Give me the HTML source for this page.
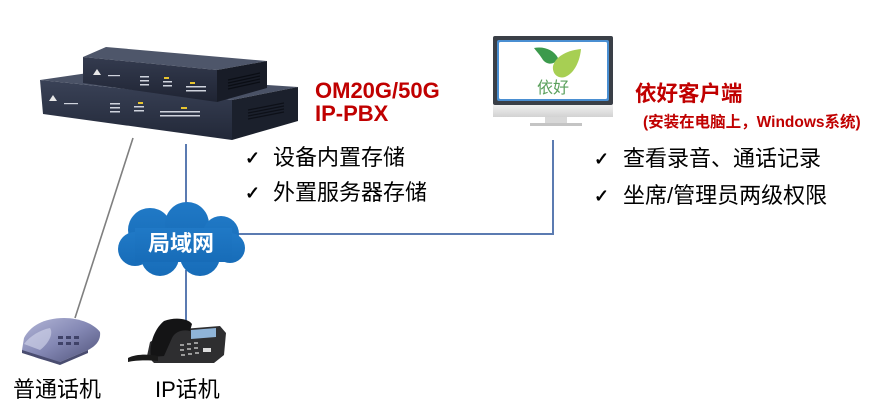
<!DOCTYPE html>
<html><head><meta charset="utf-8">
<style>
html,body{margin:0;padding:0;background:#fff;}
svg{display:block;}
.cn{font-family:"Liberation Sans","Noto Sans CJK SC",sans-serif;}
.ck{font-family:"DejaVu Sans",sans-serif;font-size:18px;fill:#000;stroke:#000;stroke-width:0.6;}
</style></head>
<body>
<svg width="878" height="418" viewBox="0 0 878 418" xmlns="http://www.w3.org/2000/svg">
<defs>
<linearGradient id="frontL" x1="0" y1="0" x2="0" y2="1"><stop offset="0" stop-color="#3a4257"/><stop offset="1" stop-color="#222838"/></linearGradient>
<linearGradient id="frontU" x1="0" y1="0" x2="0" y2="1"><stop offset="0" stop-color="#343b4f"/><stop offset="1" stop-color="#1f2433"/></linearGradient>
<linearGradient id="anlg" x1="0" y1="0" x2="1" y2="1"><stop offset="0" stop-color="#b4b7d8"/><stop offset="0.5" stop-color="#8488b4"/><stop offset="1" stop-color="#4e5178"/></linearGradient>
<linearGradient id="chin" x1="0" y1="0" x2="0" y2="1"><stop offset="0" stop-color="#f0f0f0"/><stop offset="1" stop-color="#d2d2d2"/></linearGradient>
<linearGradient id="cloudg" x1="0" y1="0" x2="0" y2="1"><stop offset="0" stop-color="#2079c6"/><stop offset="1" stop-color="#176cb8"/></linearGradient>
</defs>

<!-- connectors -->
<line x1="133" y1="138" x2="75" y2="318" stroke="#7f7f7f" stroke-width="1.6"/>
<line x1="186" y1="144" x2="186" y2="206" stroke="#5b7bb1" stroke-width="2"/>
<line x1="186" y1="270" x2="186" y2="322" stroke="#5b7bb1" stroke-width="2"/>
<line x1="238" y1="234" x2="553" y2="234" stroke="#5b7bb1" stroke-width="2"/>
<line x1="553" y1="140" x2="553" y2="235" stroke="#5b7bb1" stroke-width="2"/>

<!-- lower PBX box -->
<polygon points="40,80 88,73 298,87 232,100" fill="#4a5266"/>
<polygon points="40,80 232,100 232,140 43,114" fill="url(#frontL)"/>
<polygon points="232,100 298,87 298,121 232,140" fill="#1b202c"/>
<g stroke="#0d1018" stroke-width="1.2">
<line x1="248" y1="110" x2="284" y2="103"/><line x1="248" y1="113" x2="284" y2="106"/><line x1="248" y1="116" x2="284" y2="109"/><line x1="248" y1="119" x2="284" y2="112"/>
</g>
<polygon points="49,101 53,95 57,101" fill="#e8e8e8"/>
<g fill="#cfd3dd">
<rect x="110" y="103" width="10" height="1.5"/><rect x="110" y="107" width="10" height="1.5"/><rect x="110" y="111" width="10" height="1.5"/>
<rect x="134" y="106" width="10" height="1.5"/><rect x="134" y="110" width="10" height="1.5"/>
<rect x="160" y="111" width="40" height="1.5"/><rect x="160" y="115" width="40" height="1.5"/>
<rect x="64" y="103" width="14" height="1.2"/>
</g>
<rect x="138" y="102" width="5" height="2" fill="#e8c530"/>
<rect x="181" y="107" width="6" height="2" fill="#e8c530"/>

<!-- upper PBX box -->
<polygon points="83,57 106,47 267,61 217,70" fill="#4e566a"/>
<polygon points="83,57 217,70 217,102 83,83" fill="url(#frontU)"/>
<polygon points="217,70 267,61 267,88 217,102" fill="#181c27"/>
<g stroke="#0a0d14" stroke-width="1.2">
<line x1="228" y1="80" x2="260" y2="73"/><line x1="228" y1="83" x2="260" y2="76"/><line x1="228" y1="86" x2="260" y2="79"/><line x1="228" y1="89" x2="260" y2="82"/>
</g>
<polygon points="93,75 97,69 101,75" fill="#e8e8e8"/>
<g fill="#cfd3dd">
<rect x="140" y="76" width="9" height="1.5"/><rect x="140" y="80" width="9" height="1.5"/><rect x="140" y="84" width="9" height="1.5"/>
<rect x="163" y="81" width="9" height="1.5"/><rect x="163" y="85" width="9" height="1.5"/>
<rect x="186" y="86" width="20" height="1.5"/><rect x="186" y="90" width="20" height="1.5"/>
<rect x="108" y="75" width="12" height="1.2"/>
</g>
<rect x="164" y="77" width="5" height="2" fill="#e8c530"/>
<rect x="190" y="82" width="5" height="2" fill="#e8c530"/>

<!-- cloud -->
<g fill="url(#cloudg)">
<circle cx="150" cy="230" r="22"/>
<circle cx="187" cy="224" r="22"/>
<circle cx="221" cy="234" r="18"/>
<circle cx="230" cy="248" r="15"/>
<circle cx="135" cy="249" r="17"/>
<circle cx="160" cy="257" r="19"/>
<circle cx="200" cy="256" r="20"/>
<rect x="135" y="228" width="97" height="34"/>
</g>
<text x="181" y="251" text-anchor="middle" class="cn" font-size="22" font-weight="bold" fill="#ffffff">局域网</text>

<!-- monitor -->
<rect x="493" y="36" width="120" height="69" rx="2" fill="#3a3f47"/>
<rect x="497" y="40" width="112" height="61" rx="2" fill="#4a8fd2"/>
<rect x="499" y="42" width="108" height="57" rx="1.5" fill="#ffffff"/>
<rect x="493" y="105" width="120" height="12" fill="url(#chin)"/>
<rect x="545" y="117" width="22" height="6" fill="#d8d8d8"/>
<rect x="530" y="123" width="52" height="3" fill="#c4c4c4"/>
<path d="M534,48 C544,46 554,50 558,58 C556,64 548,66 543,60 C540,55 537,52 534,48 Z" fill="#3c9a4c"/>
<path d="M581,49 C570,50 556,55 553,66 C552,74 558,79 565,77 C575,73 580,60 581,49 Z" fill="#a7cf53"/>
<text x="553" y="93" text-anchor="middle" class="cn" font-size="16" fill="#5aa05c">依好</text>

<!-- analog phone -->
<path d="M24,338 C30,326 44,318 64,318 C80,318 94,324 100,332 C101,340 96,346 88,350 L60,362 C44,362 30,356 22,350 Z" fill="url(#anlg)"/>
<path d="M24,344 C30,336 40,330 50,328 C54,334 48,344 40,350 Z" fill="#d6d8ec" opacity="0.6"/>
<g fill="#3f4268"><rect x="58" y="336" width="5" height="3"/><rect x="66" y="336" width="5" height="3"/><rect x="74" y="336" width="5" height="3"/><rect x="58" y="342" width="5" height="3"/><rect x="66" y="342" width="5" height="3"/><rect x="74" y="342" width="5" height="3"/></g>
<path d="M22,350 L60,362 L88,350 L88,353 L60,365 L22,353 Z" fill="#4a4d70"/>

<!-- IP phone -->
<path d="M150,342 L170,330 L220,326 L226,333 L224,355 L214,363 L154,363 L147,356 Z" fill="#2e2e30"/>
<path d="M164,321 C174,317 188,318 192,324 L190,331 C182,329 175,332 172,338 L164,356 L151,357 C149,347 153,330 164,321 Z" fill="#141415"/>
<polygon points="191,330 216,328 216,337 191,339" fill="#8fb4d8"/>
<g fill="#9a9a9a"><rect x="180" y="344" width="4" height="2"/><rect x="187" y="343" width="4" height="2"/><rect x="194" y="342" width="4" height="2"/><rect x="180" y="349" width="4" height="2"/><rect x="187" y="348" width="4" height="2"/><rect x="194" y="347" width="4" height="2"/><rect x="181" y="354" width="4" height="2"/><rect x="188" y="353" width="4" height="2"/><rect x="195" y="352" width="4" height="2"/></g>
<rect x="203" y="348" width="8" height="4" fill="#dcdcdc"/>
<path d="M128,358 C136,354 148,354 158,356 L158,361 C148,360 136,360 128,362 Z" fill="#1a1a1a"/>

<!-- PBX labels -->
<text x="315" y="98" font-family="Liberation Sans, sans-serif" font-size="22" font-weight="bold" fill="#c00000">OM20G/50G</text>
<text x="315" y="121" font-family="Liberation Sans, sans-serif" font-size="22" font-weight="bold" fill="#c00000">IP-PBX</text>
<text x="245" y="164" class="ck">✓</text>
<text x="273" y="165" class="cn" font-size="22" fill="#000">设备内置存储</text>
<text x="245" y="199" class="ck">✓</text>
<text x="273" y="200" class="cn" font-size="22" fill="#000">外置服务器存储</text>

<!-- client labels -->
<text x="635" y="101" class="cn" font-size="21.5" font-weight="bold" fill="#c00000">依好客户端</text>
<text x="643" y="127" class="cn" font-size="15.5" font-weight="bold" fill="#c00000">(安装在电脑上，Windows系统)</text>
<text x="594" y="165" class="ck">✓</text>
<text x="623" y="166" class="cn" font-size="22" fill="#000">查看录音、通话记录</text>
<text x="594" y="202" class="ck">✓</text>
<text x="623" y="203" class="cn" font-size="22" fill="#000">坐席/管理员两级权限</text>

<!-- phone labels -->
<text x="13" y="397" class="cn" font-size="22" fill="#000">普通话机</text>
<text x="155" y="397" class="cn" font-size="22" fill="#000">IP话机</text>
</svg>
</body></html>
